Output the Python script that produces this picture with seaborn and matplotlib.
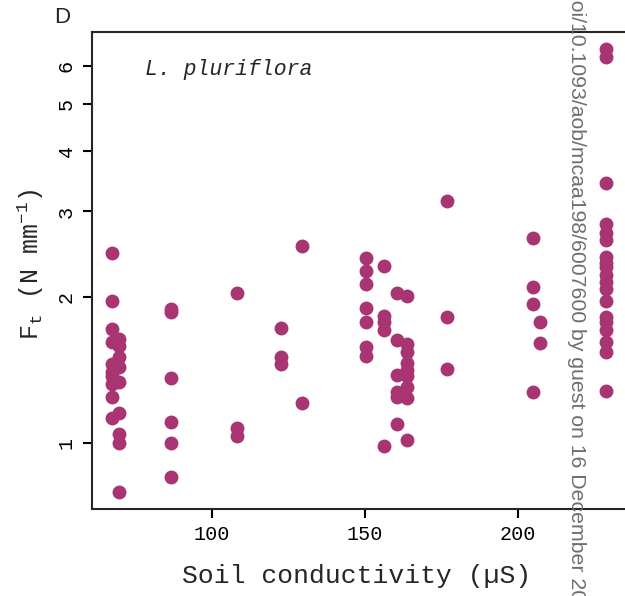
import pandas as pd
import numpy as np
import seaborn as sns
import matplotlib.pyplot as plt

# soil conductivity (uS) of each sampling site
site_x = [67.3, 69.6, 86.6, 108.2, 122.5, 129.4, 150.5,
          156.2, 160.5, 163.9, 176.8, 204.9, 207.2, 228.7]

# F_t (N mm-1) measured at each site
ft_67 = [2.46, 1.96, 1.72, 1.61, 1.455, 1.40, 1.375, 1.32, 1.244, 1.126]
ft_69 = [1.64, 1.585, 1.50, 1.435, 1.336, 1.153, 1.044, 1.0, 0.792]
ft_86 = [1.89, 1.86, 1.36, 1.105, 1.0, 0.851]
ft_108 = [2.04, 1.074, 1.034]
ft_122 = [1.726, 1.50, 1.455]
ft_129 = [2.55, 1.21]
ft_150 = [2.41, 2.26, 2.13, 1.90, 1.776, 1.577, 1.51]
ft_156 = [2.32, 1.827, 1.776, 1.71, 0.986]
ft_160 = [2.04, 1.63, 1.38, 1.274, 1.244, 1.094]
ft_164 = [2.01, 1.60, 1.54, 1.46, 1.415, 1.375, 1.305, 1.238, 1.014]
ft_177 = [3.16, 1.82, 1.42]
ft_205 = [2.65, 2.10, 1.93, 1.274]
ft_207 = [1.776, 1.606]
ft_229 = [6.49, 6.25, 3.44, 2.82, 2.71, 2.62, 2.42, 2.35, 2.30, 2.22,
          2.15, 2.08, 1.96, 1.82, 1.776, 1.71, 1.615, 1.54, 1.28]

ft_sites = [ft_67, ft_69, ft_86, ft_108, ft_122, ft_129, ft_150,
            ft_156, ft_160, ft_164, ft_177, ft_205, ft_207, ft_229]

x_ticks = [100, 150, 200]
y_ticks = [1, 2, 3, 4, 5, 6]

df = pd.DataFrame({
    'conductivity': np.concatenate([[x] * len(v) for x, v in zip(site_x, ft_sites)]),
    'ft': np.concatenate(ft_sites),
})

sns.set_style('ticks')
plt.rcParams['font.family'] = ['Liberation Mono', 'DejaVu Sans Mono']
plt.rcParams['mathtext.fontset'] = 'custom'
plt.rcParams['mathtext.rm'] = 'Liberation Mono'
plt.rcParams['axes.linewidth'] = 1.5

fig = plt.figure(figsize=(6.25, 5.96), dpi=100)
ax = fig.add_axes([0.147, 0.146, 0.863, 0.8])

sns.scatterplot(data=df, x='conductivity', y='ft', ax=ax,
                color='#A83472', s=100, linewidth=0, zorder=3)

ax.set_yscale('log')
ax.set_xlim(60.8, 237.0)
ax.set_ylim(0.73, 7.03)
ax.set_xticks(x_ticks)
ax.set_xticklabels([str(t) for t in x_ticks])
ax.set_yticks(y_ticks)
ax.set_yticklabels([str(t) for t in y_ticks], rotation=90, va='center')
ax.minorticks_off()
ax.tick_params(axis='both', labelsize=14.5, length=6.5, width=1.5,
               color='black', labelcolor='black', pad=5)
# box runs off the right edge of the panel
ax.spines['right'].set_visible(False)

ax.set_xlabel('Soil conductivity (\u00b5S)', fontsize=19)
ax.set_ylabel('F$_\\mathregular{t}$ (N mm$^{\\mathregular{-1}}$)', fontsize=18)
ax.xaxis.set_label_coords(0.49, -0.115)
ax.yaxis.set_label_coords(-0.085, 0.512)

ax.text(0.098, 0.922, 'L. pluriflora', transform=ax.transAxes,
        fontsize=15.5, style='italic', ha='left', va='center')

fig.text(0.099, 0.970, 'D', fontsize=16, family='Liberation Sans',
         ha='center', va='center')

# journal watermark running down the right side
fig.text(0.923, 1.02, 'doi/10.1093/aob/mcaa198/6007600 by guest on 16 December 2020',
         rotation=270, fontsize=15.3, family='Liberation Sans', color='#6e6e6e',
         ha='center', va='top')

fig.savefig('out.png', dpi=100)
